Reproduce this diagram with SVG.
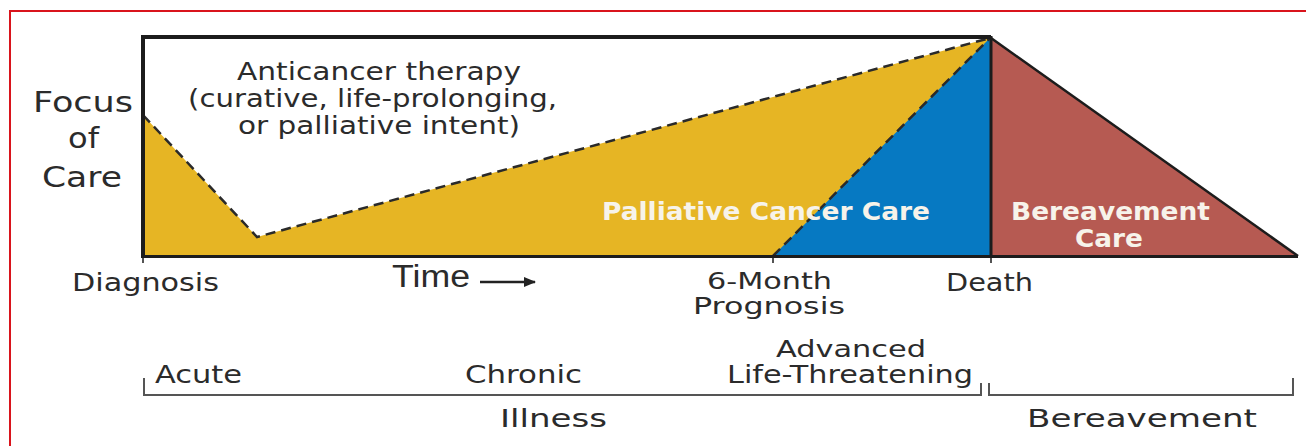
<svg xmlns="http://www.w3.org/2000/svg" width="1306" height="446" viewBox="0 0 1306 446">
<style>
.t{font-family:"DejaVu Sans","Liberation Sans",sans-serif;font-size:24px;fill:#2b2b2b;}
.big{font-size:28px;}
.sm{font-size:23px;}
.w{font-family:"DejaVu Sans","Liberation Sans",sans-serif;font-size:25px;font-weight:bold;fill:#f7f3ea;}
.time{font-family:"Liberation Sans",Arial,sans-serif;font-size:31px;fill:#2b2b2b;}
.dash{fill:none;stroke:#2a2a2a;stroke-width:2.5;stroke-dasharray:10 6;}
.br{fill:none;stroke:#555;stroke-width:2;}
.frame{fill:none;stroke:#1c1c1c;}
</style>
<defs>
<marker id="ah" markerWidth="12" markerHeight="10" refX="11" refY="5" orient="auto" markerUnits="userSpaceOnUse">
<path d="M0,0 L12,5 L0,10 Z" fill="#222"/>
</marker>
</defs>
<rect width="1306" height="446" fill="#fff"/>
<g id="red-frame">
<line x1="10" y1="11" x2="1306" y2="11" stroke="#d9141c" stroke-width="2"/>
<line x1="10" y1="10" x2="10" y2="446" stroke="#d9141c" stroke-width="2"/>
</g>
<g id="anticancer-area">
<polygon points="143,115 257,237 990,38 990,256 143,256" fill="#e6b524"/>
</g>
<g id="palliative-area">
<polygon points="773,256 990,38 990,256" fill="#0679c2"/>
</g>
<g id="bereavement-area">
<polygon points="991,38 1298,256 991,256" fill="#b65a52"/>
<line x1="991" y1="38" x2="1298" y2="256" stroke="#1c1c1c" stroke-width="2.5"/>
</g>
<g id="connectors">
<polyline class="dash" points="143,115 257,237 990,38"/>
<line class="dash" x1="773" y1="256" x2="990" y2="38"/>
<line x1="480" y1="282" x2="535" y2="282" stroke="#222" stroke-width="2.5" marker-end="url(#ah)"/>
</g>
<g id="main-box">
<path class="frame" d="M143,37 H991" stroke-width="4"/>
<path class="frame" d="M143,35 V258" stroke-width="4"/>
<path class="frame" d="M143,256.5 H1298" stroke-width="3"/>
<path class="frame" d="M991,36 V258" stroke-width="3"/>
<path class="frame" d="M143,258 V263 M773,256 V263 M991,256 V263" stroke-width="1.5"/>
</g>
<g id="focus-of-care">
<text class="t big" x="33" y="112" textLength="100" lengthAdjust="spacingAndGlyphs">Focus</text>
<text class="t big" x="68" y="148" textLength="31" lengthAdjust="spacingAndGlyphs">of</text>
<text class="t big" x="42" y="187" textLength="80" lengthAdjust="spacingAndGlyphs">Care</text>
</g>
<g id="anticancer-label">
<text class="t" x="237" y="80" textLength="284" lengthAdjust="spacingAndGlyphs">Anticancer therapy</text>
<text class="t" x="188" y="107" textLength="369" lengthAdjust="spacingAndGlyphs">(curative, life-prolonging,</text>
<text class="t" x="238" y="134" textLength="282" lengthAdjust="spacingAndGlyphs">or palliative intent)</text>
</g>
<g id="palliative-label">
<text class="w" x="602" y="220" textLength="328" lengthAdjust="spacingAndGlyphs">Palliative Cancer Care</text>
</g>
<g id="bereavement-care-label">
<text class="w" x="1011" y="220" textLength="199" lengthAdjust="spacingAndGlyphs">Bereavement</text>
<text class="w" x="1075" y="247" textLength="68" lengthAdjust="spacingAndGlyphs">Care</text>
</g>
<g id="diagnosis">
<text class="t" x="72" y="291" textLength="147" lengthAdjust="spacingAndGlyphs">Diagnosis</text>
</g>
<g id="time">
<text class="time" x="392" y="287" textLength="78" lengthAdjust="spacingAndGlyphs">Time</text>
</g>
<g id="six-month">
<text class="t sm" x="707" y="289" textLength="125" lengthAdjust="spacingAndGlyphs">6-Month</text>
<text class="t sm" x="693" y="314" textLength="152" lengthAdjust="spacingAndGlyphs">Prognosis</text>
</g>
<g id="death">
<text class="t" x="946" y="291" textLength="87" lengthAdjust="spacingAndGlyphs">Death</text>
</g>
<g id="phases">
<text class="t" x="155" y="383" textLength="87" lengthAdjust="spacingAndGlyphs">Acute</text>
<text class="t" x="465" y="383" textLength="117" lengthAdjust="spacingAndGlyphs">Chronic</text>
<text class="t sm" x="776" y="357" textLength="150" lengthAdjust="spacingAndGlyphs">Advanced</text>
<text class="t" x="727" y="383" textLength="246" lengthAdjust="spacingAndGlyphs">Life-Threatening</text>
</g>
<g id="illness-bracket">
<path class="br" d="M144,378 V395 H981 V383"/>
<text class="t" x="500" y="427" textLength="107" lengthAdjust="spacingAndGlyphs">Illness</text>
</g>
<g id="bereavement-bracket">
<path class="br" d="M989,383 V395 H1293 V378"/>
<text class="t" x="1027" y="427" textLength="230" lengthAdjust="spacingAndGlyphs">Bereavement</text>
</g>
</svg>
